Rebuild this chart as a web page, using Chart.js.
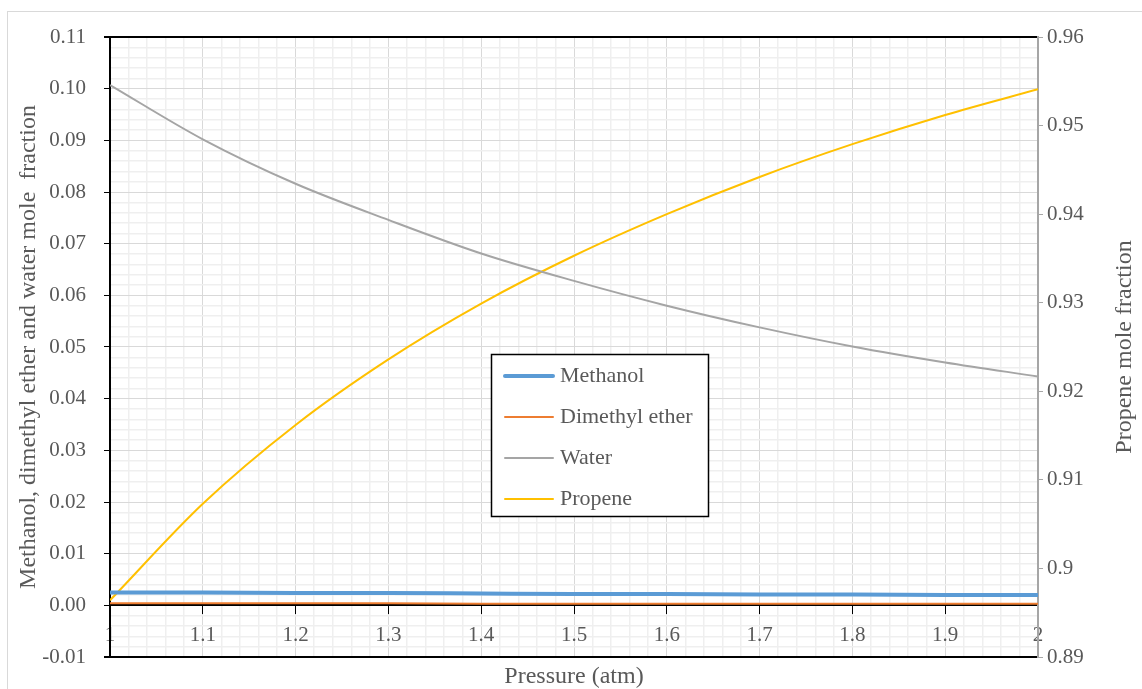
<!DOCTYPE html>
<html>
<head>
<meta charset="utf-8">
<script src="https://cdn.jsdelivr.net/npm/chart.js@4"></script>
<style>
  body { margin: 0; background: #fff; }
  canvas { display: block; }
</style>
</head>
<body>
<canvas id="myChart" width="1142" height="689"></canvas>
<script>
// pressure (atm) and mole fractions
const pressure = [1.0, 1.1, 1.2, 1.3, 1.4, 1.5, 1.6, 1.7, 1.8, 1.9, 2.0];
const methanol = [0.0025, 0.0025, 0.0024, 0.0024, 0.0023, 0.0022, 0.0022, 0.0021, 0.0021, 0.0020, 0.0020];
const dimethylEther = [0.0004, 0.0004, 0.0004, 0.0004, 0.0003, 0.0003, 0.0003, 0.0003, 0.0003, 0.0003, 0.0003];
const water = [0.1007, 0.0902, 0.0816, 0.0746, 0.0681, 0.0628, 0.0580, 0.0538, 0.0501, 0.0470, 0.0443];
const propene = [0.8964, 0.9073, 0.9162, 0.9236, 0.9299, 0.9353, 0.9400, 0.9442, 0.9479, 0.9512, 0.9541];

const seriesNames = ["Methanol", "Dimethyl ether", "Water", "Propene"];
const seriesColors = ["#5b9bd5", "#ed7d31", "#a5a5a5", "#ffc000"];

const textColor = "#595959";
const serif = '"Liberation Serif", "Times New Roman", serif';

function points(ys) {
  return pressure.map((p, i) => ({x: p, y: ys[i]}));
}
function isMajorY(v) {
  return Math.abs(v * 100 - Math.round(v * 100)) < 1e-6;
}
function isMajorX(v) {
  return Math.abs(v * 10 - Math.round(v * 10)) < 1e-6;
}

const chartDecor = {
  id: "chartDecor",
  beforeDraw(chart) {
    const ctx = chart.ctx;
    ctx.save();
    ctx.strokeStyle = "#d9d9d9";
    ctx.lineWidth = 1;
    ctx.strokeRect(7.5, 11.5, 1160, 700);
    ctx.restore();
  },
  afterDraw(chart) {
    const ctx = chart.ctx;
    const area = chart.chartArea;
    ctx.save();
    // right axis title, reads bottom to top
    ctx.fillStyle = textColor;
    ctx.font = "24px " + serif;
    ctx.textAlign = "center";
    ctx.textBaseline = "middle";
    ctx.translate(1125, (area.top + area.bottom) / 2);
    ctx.rotate(-Math.PI / 2);
    ctx.fillText("Propene mole fraction", 0, 0);
    ctx.restore();

    // legend box inside the plot
    ctx.save();
    ctx.fillStyle = "#fff";
    ctx.fillRect(491, 354, 218, 163);
    ctx.strokeStyle = "#000";
    ctx.lineWidth = 1.5;
    ctx.strokeRect(491.5, 354.5, 217, 162);
    ctx.font = "22px " + serif;
    ctx.textAlign = "left";
    ctx.textBaseline = "middle";
    chart.data.datasets.forEach((ds, i) => {
      const y = 376 + i * 41;
      ctx.strokeStyle = ds.borderColor;
      ctx.lineWidth = ds.borderWidth;
      ctx.lineCap = "round";
      ctx.beginPath();
      ctx.moveTo(505, y);
      ctx.lineTo(553, y);
      ctx.stroke();
      ctx.fillStyle = textColor;
      ctx.fillText(ds.label, 560, y);
    });
    ctx.restore();
  }
};

new Chart("myChart", {
  type: "line",
  data: {
    datasets: [
      {label: seriesNames[0], data: points(methanol), borderColor: seriesColors[0], borderWidth: 4, yAxisID: "y"},
      {label: seriesNames[1], data: points(dimethylEther), borderColor: seriesColors[1], borderWidth: 2, yAxisID: "y"},
      {label: seriesNames[2], data: points(water), borderColor: seriesColors[2], borderWidth: 2, yAxisID: "y"},
      {label: seriesNames[3], data: points(propene), borderColor: seriesColors[3], borderWidth: 2, yAxisID: "y2"}
    ]
  },
  options: {
    responsive: false,
    animation: false,
    layout: {padding: {top: 37, left: 0, right: 0, bottom: 0}},
    elements: {
      point: {radius: 0},
      line: {cubicInterpolationMode: "monotone", fill: false}
    },
    plugins: {
      legend: {display: false},
      tooltip: {enabled: false}
    },
    scales: {
      x: {
        type: "linear",
        position: {y: 0},
        min: 1,
        max: 2,
        ticks: {
          stepSize: 0.02,
          autoSkip: false,
          maxRotation: 0,
          padding: 10,
          color: textColor,
          font: {family: serif, size: 21},
          callback: v => isMajorX(v) ? String(Math.round(v * 10) / 10) : ""
        },
        grid: {
          color: c => (c.tick && isMajorX(c.tick.value)) ? "#d9d9d9" : "#efefef",
          tickColor: c => (c.tick && isMajorX(c.tick.value)) ? "#000" : "rgba(0,0,0,0)",
          tickLength: 8,
          lineWidth: c => (c.tick && isMajorX(c.tick.value)) ? 1 : 1.5
        },
        border: {color: "#000", width: 2}
      },
      x2: {
        type: "linear",
        axis: "x",
        position: "bottom",
        min: 1,
        max: 2,
        ticks: {display: false},
        grid: {display: false, drawTicks: false},
        border: {color: "#000", width: 2},
        title: {
          display: true,
          text: "Pressure (atm)",
          color: textColor,
          font: {family: serif, size: 24, lineHeight: 1},
          padding: {top: 0, bottom: 0}
        },
        afterFit: s => { s.height = 32; }
      },
      y: {
        type: "linear",
        position: "left",
        min: -0.01,
        max: 0.11,
        ticks: {
          stepSize: 0.002,
          autoSkip: false,
          padding: 18,
          color: textColor,
          font: {family: serif, size: 21},
          callback: v => isMajorY(v) ? (Math.round(v * 100) / 100).toFixed(2) : ""
        },
        grid: {
          color: c => {
            if (!c.tick) return "#efefef";
            const v = c.tick.value;
            if (v > 0.1099 || v < -0.0099) return "#000";
            return isMajorY(v) ? "#d9d9d9" : "#efefef";
          },
          lineWidth: c => {
            if (!c.tick) return 1;
            const v = c.tick.value;
            if (v > 0.1099 || v < -0.0099) return 2;
            return isMajorY(v) ? 1 : 1.5;
          },
          tickColor: c => (c.tick && isMajorY(c.tick.value)) ? "#000" : "rgba(0,0,0,0)",
          tickLength: 6
        },
        border: {color: "#000", width: 2},
        title: {
          display: true,
          text: "Methanol, dimethyl ether and water mole  fraction",
          color: textColor,
          font: {family: serif, size: 24},
          padding: {top: 14, bottom: 0}
        },
        afterFit: s => { s.width = 110; }
      },
      y2: {
        type: "linear",
        position: "right",
        min: 0.89,
        max: 0.96,
        ticks: {
          stepSize: 0.01,
          autoSkip: false,
          padding: 4,
          color: textColor,
          font: {family: serif, size: 21},
          callback: v => String(Math.round(v * 100) / 100)
        },
        grid: {
          drawOnChartArea: false,
          tickColor: "#a6a6a6",
          tickLength: 5
        },
        border: {color: "#a6a6a6", width: 2},
        afterFit: s => { s.width = 104; }
      }
    }
  },
  plugins: [chartDecor]
});
</script>
</body>
</html>
